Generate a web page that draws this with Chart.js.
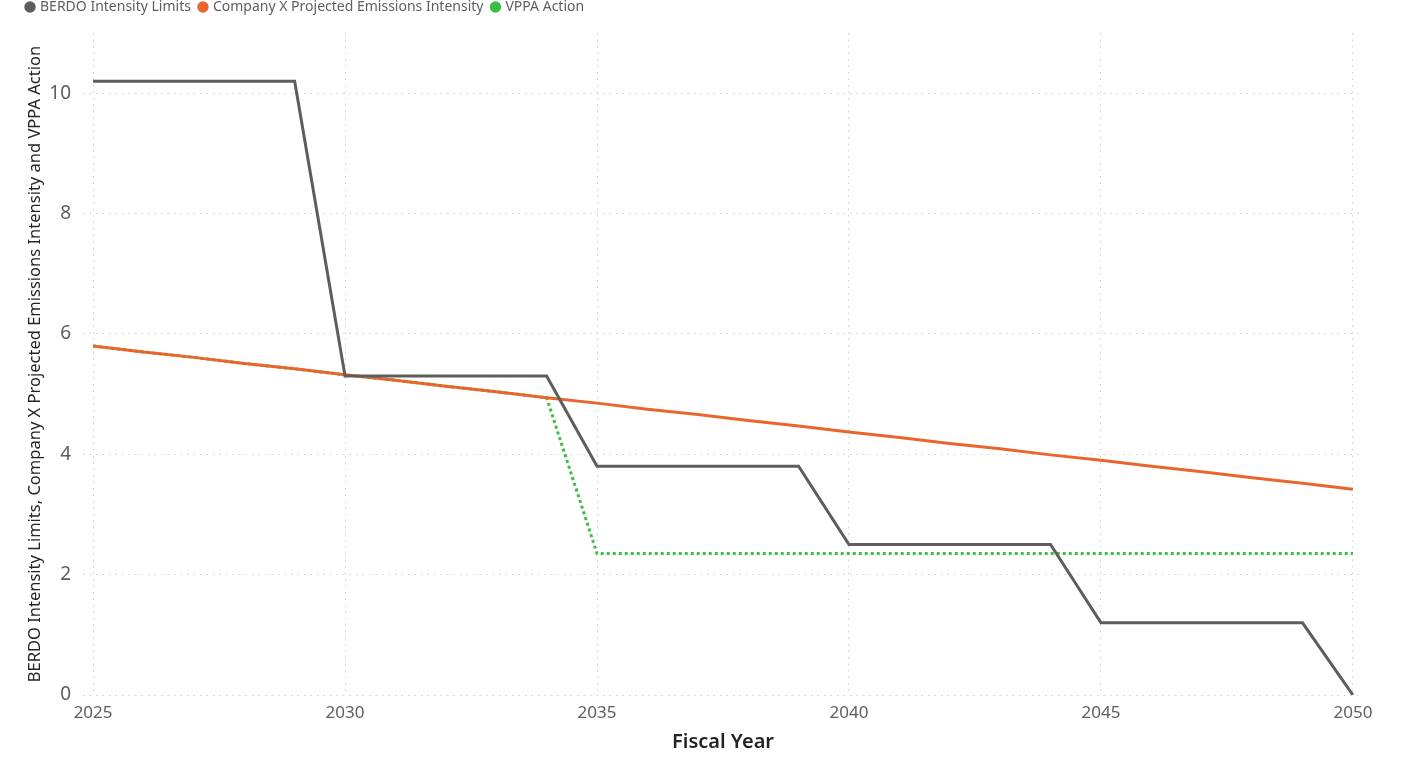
<!DOCTYPE html>
<html>
<head>
<meta charset="utf-8">
<script src="https://cdn.jsdelivr.net/npm/chart.js@4.4.1/dist/chart.umd.min.js"></script>
<style>
  html, body { margin: 0; padding: 0; background: #fff; }
  #wrap { width: 1413px; height: 770px; }
</style>
</head>
<body>
<div id="wrap"><canvas id="grafico"></canvas></div>
<script>
// anni fiscali
var anni = [2025, 2026, 2027, 2028, 2029, 2030, 2031, 2032, 2033, 2034, 2035, 2036, 2037,
            2038, 2039, 2040, 2041, 2042, 2043, 2044, 2045, 2046, 2047, 2048, 2049, 2050];

var berdo = [10.2, 10.2, 10.2, 10.2, 10.2, 5.3, 5.3, 5.3, 5.3, 5.3, 3.8, 3.8, 3.8,
             3.8, 3.8, 2.5, 2.5, 2.5, 2.5, 2.5, 1.2, 1.2, 1.2, 1.2, 1.2, 0];

var companyX = [5.80, 5.70, 5.61, 5.51, 5.42, 5.32, 5.23, 5.13, 5.04, 4.94, 4.85, 4.75, 4.66,
                4.56, 4.47, 4.37, 4.28, 4.18, 4.09, 3.99, 3.90, 3.80, 3.71, 3.61, 3.52, 3.42];

var vppa = [5.80, 5.70, 5.61, 5.51, 5.42, 5.32, 5.23, 5.13, 5.04, 4.94, 2.35, 2.35, 2.35,
            2.35, 2.35, 2.35, 2.35, 2.35, 2.35, 2.35, 2.35, 2.35, 2.35, 2.35, 2.35, 2.35];

var yTicks = [0, 2, 4, 6, 8, 10];
var xTicks = [2025, 2030, 2035, 2040, 2045, 2050];

var font = "'Segoe UI', 'Noto Sans', 'Open Sans', sans-serif";

function punti(valori) {
    var out = [];
    for (var i = 0; i < anni.length; i++) {
        out.push({ x: anni[i], y: valori[i] });
    }
    return out;
}

var ctx = document.getElementById('grafico');
var chart = new Chart(ctx, {
    type: 'line',
    data: {
        datasets: [{
            label: 'BERDO Intensity Limits',
            data: punti(berdo),
            borderColor: '#5d5d5d',
            backgroundColor: '#5d5d5d',
            borderWidth: 3
        }, {
            label: 'Company X Projected Emissions Intensity',
            data: punti(companyX),
            borderColor: '#e8662e',
            backgroundColor: '#e8662e',
            borderWidth: 3
        }, {
            label: 'VPPA Action',
            data: punti(vppa),
            borderColor: '#3cbd45',
            backgroundColor: '#3cbd45',
            borderWidth: 3,
            borderDash: [3, 3]
        }]
    },
    options: {
        responsive: true,
        maintainAspectRatio: false,
        animation: false,
        elements: {
            point: { radius: 0, hoverRadius: 0 },
            line: { tension: 0 }
        },
        layout: { padding: { left: 18, right: 50, top: -9, bottom: 0 } },
        plugins: {
            tooltip: { enabled: false },
            legend: {
                position: 'top',
                align: 'start',
                labels: {
                    usePointStyle: true,
                    pointStyle: 'circle',
                    boxWidth: 6,
                    boxHeight: 6,
                    padding: 9,
                    color: '#605e5c',
                    font: { family: font, size: 14 }
                }
            }
        },
        scales: {
            x: {
                type: 'linear',
                min: 2024.8,
                max: 2050.2,
                afterBuildTicks: function (scale) {
                    scale.ticks = xTicks.map(function (v) { return { value: v }; });
                },
                afterFit: function (scale) { scale.height = 75; },
                grid: {
                    color: '#cccccc',
                    drawTicks: false
                },
                border: { display: false, dash: [1.5, 5] },
                ticks: {
                    padding: 8,
                    color: '#605e5c',
                    font: { family: font, size: 17 },
                    callback: function (v) { return String(v); }
                },
                title: {
                    display: true,
                    text: 'Fiscal Year',
                    color: '#252423',
                    font: { family: font, size: 20, weight: '600' },
                    padding: { top: 4, bottom: 16 }
                }
            },
            y: {
                min: 0,
                max: 11,
                afterBuildTicks: function (scale) {
                    scale.ticks = yTicks.map(function (v) { return { value: v }; });
                },
                afterFit: function (scale) { scale.width = 65; },
                grid: {
                    color: '#cccccc',
                    drawTicks: false
                },
                border: { display: false, dash: [1.5, 5] },
                ticks: {
                    padding: 12,
                    color: '#605e5c',
                    font: { family: font, size: 19 }
                },
                title: {
                    display: true,
                    text: 'BERDO Intensity Limits, Company X Projected Emissions Intensity and VPPA Action',
                    color: '#252423',
                    font: { family: font, size: 16.5 },
                    padding: { top: 7, bottom: 6 }
                }
            }
        }
    }
});

// spazio in piu' sotto la legenda
var legendFit = chart.legend.fit;
chart.legend.fit = function () {
    legendFit.call(this);
    this.height += 9;
};
chart.update();
</script>
</body>
</html>
